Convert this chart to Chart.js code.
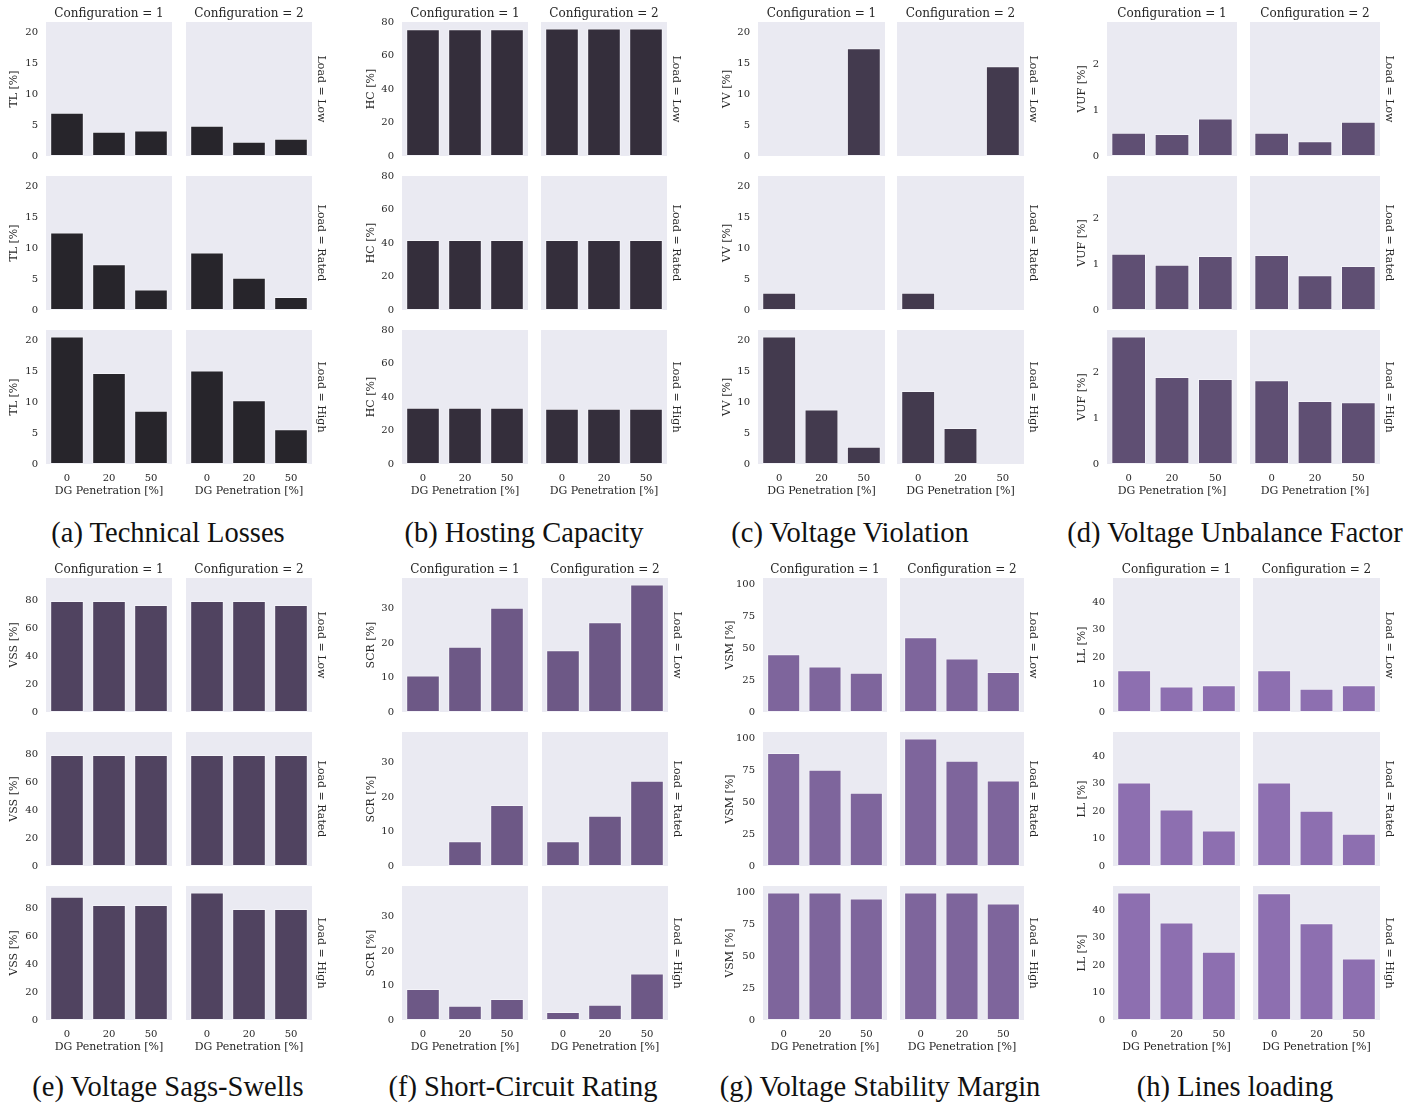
<!DOCTYPE html>
<html>
<head>
<meta charset="utf-8">
<script src="https://cdn.jsdelivr.net/npm/chart.js@4.4.1/dist/chart.umd.min.js"></script>
<style>
  body { margin: 0; background: #fff; width: 1423px; height: 1103px; position: relative; overflow: hidden; }
  canvas { position: absolute; }
  .cap { position: absolute; font-family: 'Liberation Serif', serif; font-size: 28.5px; color: #111; white-space: nowrap; transform: translate(-50%, -50%); }
</style>
</head>
<body>
<script>
// categories
const dgLevels = ['0', '20', '50'];
const loads = ['Low', 'Rated', 'High'];
const configs = ['1', '2'];

// values: one row per load (Low, Rated, High), one value per DG level
const tlConf1 = [[7.0, 3.9, 4.1], [12.5, 7.4, 3.3], [20.6, 14.7, 8.6]];
const tlConf2 = [[4.9, 2.3, 2.8], [9.3, 5.2, 2.1], [15.1, 10.3, 5.6]];
const hcConf1 = [[75.8, 75.8, 75.8], [41.8, 41.8, 41.8], [33.6, 33.6, 33.6]];
const hcConf2 = [[76.3, 76.3, 76.3], [41.8, 41.8, 41.8], [33.0, 33.0, 33.0]];
const vvConf1 = [[0, 0, 17.4], [2.8, 0, 0], [20.6, 8.8, 2.8]];
const vvConf2 = [[0, 0, 14.5], [2.8, 0, 0], [11.8, 5.8, 0]];
const vufConf1 = [[0.51, 0.48, 0.82], [1.23, 0.99, 1.18], [2.79, 1.90, 1.86]];
const vufConf2 = [[0.51, 0.32, 0.75], [1.20, 0.76, 0.96], [1.83, 1.38, 1.35]];
const vssConf1 = [[79.6, 79.6, 76.8], [79.6, 79.6, 79.6], [88.3, 82.4, 82.4]];
const vssConf2 = [[79.6, 79.6, 76.8], [79.6, 79.6, 79.6], [91.5, 79.6, 79.6]];
const scrConf1 = [[10.6, 18.9, 30.2], [0, 7.2, 17.7], [9.0, 4.1, 6.1]];
const scrConf2 = [[17.9, 26.0, 37.0], [7.2, 14.6, 24.7], [2.3, 4.4, 13.5]];
const vsmConf1 = [[45.2, 35.6, 30.7], [88.5, 75.5, 57.3], [100, 100, 95.3]];
const vsmConf2 = [[58.5, 42.0, 31.3], [100, 82.5, 67.0], [100, 100, 91.2]];
const llConf1 = [[15.2, 9.3, 9.8], [30.5, 20.6, 13.0], [46.6, 35.6, 24.9]];
const llConf2 = [[15.2, 8.5, 9.8], [30.5, 20.2, 11.8], [46.3, 35.3, 22.5]];

// y tick steps and labels
const yLabels = ['TL [%]', 'HC [%]', 'VV [%]', 'VUF [%]', 'VSS [%]', 'SCR [%]', 'VSM [%]', 'LL [%]'];
const yStep = [5, 20, 5, 1, 20, 10, 25, 10];
const captions = ['(a) Technical Losses', '(b) Hosting Capacity', '(c) Voltage Violation', '(d) Voltage Unbalance Factor',
                  '(e) Voltage Sags-Swells', '(f) Short-Circuit Rating', '(g) Voltage Stability Margin', '(h) Lines loading'];

// layout: plot lefts of both columns, plot width, top of first row, y-title offset, caption centre
const panels = [
  { y: yLabels[0], step: yStep[0], data: [tlConf1, tlConf2], color: '#27252b', x: [46, 186], w: 126, top: 22, yOff: 32, cap: [168, 533] },
  { y: yLabels[1], step: yStep[1], data: [hcConf1, hcConf2], color: '#342e3b', x: [402, 541], w: 126, top: 22, yOff: 31, cap: [524, 533] },
  { y: yLabels[2], step: yStep[2], data: [vvConf1, vvConf2], color: '#433a4e', x: [758, 897], w: 127, top: 22, yOff: 31, cap: [850, 533] },
  { y: yLabels[3], step: yStep[3], data: [vufConf1, vufConf2], color: '#5f4f73', x: [1107, 1250], w: 130, top: 22, yOff: 25, cap: [1235, 533] },
  { y: yLabels[4], step: yStep[4], data: [vssConf1, vssConf2], color: '#504360', x: [46, 186], w: 126, top: 578, yOff: 32, cap: [168, 1087] },
  { y: yLabels[5], step: yStep[5], data: [scrConf1, scrConf2], color: '#6d5886', x: [402, 542], w: 126, top: 578, yOff: 31, cap: [523, 1087] },
  { y: yLabels[6], step: yStep[6], data: [vsmConf1, vsmConf2], color: '#7e659c', x: [763, 900], w: 124, top: 578, yOff: 33, cap: [880, 1087] },
  { y: yLabels[7], step: yStep[7], data: [llConf1, llConf2], color: '#8d6fb0', x: [1113, 1253], w: 127, top: 578, yOff: 31, cap: [1235, 1087] }
];

const FONT = 'DejaVu Serif';
const TXT = '#262626';
const rowH = 134, rowGap = 154;

// facet titles: column title on top row, row label on right column
const facetLabels = {
  id: 'facetLabels',
  afterDraw(chart, args, opts) {
    const { ctx, chartArea: a } = chart;
    ctx.save();
    ctx.fillStyle = TXT;
    ctx.textAlign = 'center';
    ctx.textBaseline = 'middle';
    if (opts.colTitle) {
      ctx.font = '12px "' + FONT + '"';
      ctx.fillText(opts.colTitle, (a.left + a.right) / 2, a.top - 8);
    }
    if (opts.rowTitle) {
      ctx.font = '11px "' + FONT + '"';
      ctx.translate(a.right + 9, (a.top + a.bottom) / 2);
      ctx.rotate(Math.PI / 2);
      ctx.fillText(opts.rowTitle, 0, 0);
    }
    ctx.restore();
  }
};

const plotBg = {
  id: 'plotBg',
  beforeDraw(chart) {
    const { ctx, chartArea: a } = chart;
    ctx.save();
    ctx.fillStyle = '#eaeaf2';
    ctx.fillRect(a.left, a.top, a.right - a.left, a.bottom - a.top);
    ctx.restore();
  }
};

// stop the scales from pushing the plot area in for their labels
function noPad(s) {
  s.paddingTop = 0; s.paddingBottom = 0; s.paddingLeft = 0; s.paddingRight = 0;
}

panels.forEach(p => {
  const yMax = Math.max(...p.data.flat(2)) * 1.05;

  for (let r = 0; r < 3; r++) {
    for (let c = 0; c < 2; c++) {
      const L = c === 0 ? 46 : 0;
      const T = r === 0 ? 22 : 8;
      const R = c === 1 ? 20 : 0;
      const B = r === 2 ? 40 : 8;
      const cv = document.createElement('canvas');
      cv.width = p.w + L + R;
      cv.height = rowH + T + B;
      cv.style.left = (p.x[c] - L) + 'px';
      cv.style.top = (p.top + r * rowGap - T) + 'px';
      document.body.appendChild(cv);

      new Chart(cv, {
        type: 'bar',
        data: {
          labels: dgLevels,
          datasets: [{
            data: p.data[c][r],
            backgroundColor: p.color,
            borderColor: 'rgba(255,255,255,0.45)',
            borderWidth: 1,
            borderSkipped: false,
            barPercentage: 0.8,
            categoryPercentage: 1.0
          }]
        },
        options: {
          responsive: false,
          animation: false,
          devicePixelRatio: 1,
          layout: { padding: { top: T, right: R, left: 0, bottom: r === 2 ? 0 : B } },
          plugins: {
            legend: { display: false },
            tooltip: { enabled: false },
            facetLabels: {
              colTitle: r === 0 ? 'Configuration = ' + configs[c] : null,
              rowTitle: c === 1 ? 'Load = ' + loads[r] : null
            }
          },
          scales: {
            x: {
              display: r === 2,
              grid: { display: false, drawTicks: false },
              border: { display: false },
              ticks: { color: TXT, font: { family: FONT, size: 10 }, padding: 8 },
              title: { display: true, text: 'DG Penetration [%]', color: TXT, font: { family: FONT, size: 11 }, padding: { top: 0, bottom: 6 } },
              afterFit: s => { s.height = r === 2 ? B : 0; noPad(s); }
            },
            y: {
              display: c === 0,
              min: 0,
              max: yMax,
              grid: { display: false, drawTicks: false },
              border: { display: false },
              afterBuildTicks: s => {
                const t = [];
                for (let v = 0; v <= yMax + 1e-9; v += p.step) t.push({ value: v });
                s.ticks = t;
              },
              ticks: { color: TXT, font: { family: FONT, size: 10 }, padding: 8 },
              title: { display: true, text: p.y, color: TXT, font: { family: FONT, size: 11 },
                       padding: { top: Math.max(0, L - p.yOff - 6.6), bottom: 0 } },
              afterFit: s => { s.width = L; noPad(s); }
            }
          }
        },
        plugins: [plotBg, facetLabels]
      });
    }
  }
});

// sub-figure captions
panels.forEach((p, i) => {
  const d = document.createElement('div');
  d.className = 'cap';
  d.textContent = captions[i];
  d.style.left = p.cap[0] + 'px';
  d.style.top = p.cap[1] + 'px';
  document.body.appendChild(d);
});
</script>
</body>
</html>
